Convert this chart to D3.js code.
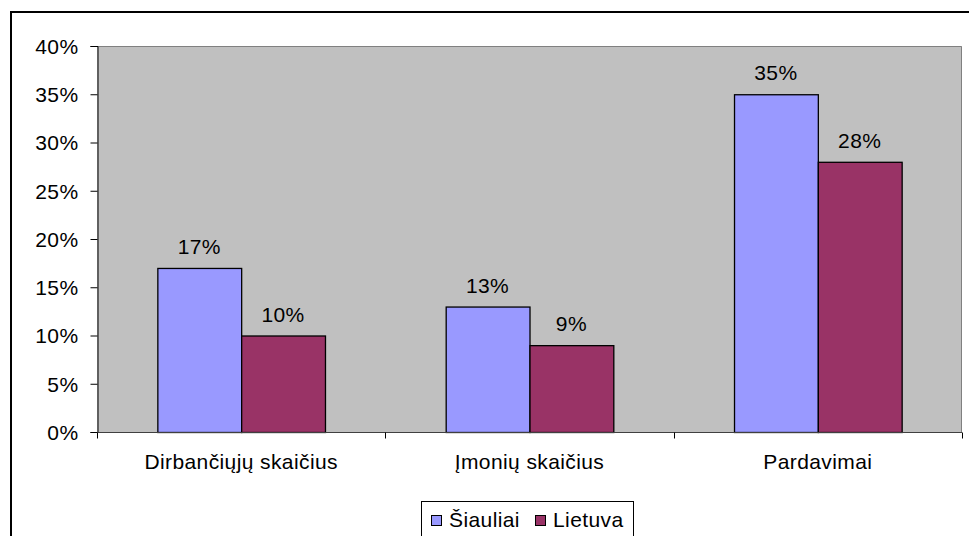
<!DOCTYPE html>
<html>
<head>
<meta charset="utf-8">
<script src="https://cdn.jsdelivr.net/npm/d3@7"></script>
<style>
  html, body { margin: 0; padding: 0; background: #fff; }
  svg { display: block; }
  text { font-family: "Liberation Sans", Arial, sans-serif; fill: #000; }
</style>
</head>
<body>
<svg id="chart" width="969" height="536"></svg>
<script>
const categories = ["Dirbančiųjų skaičius", "Įmonių skaičius", "Pardavimai"];
const seriesNames = ["Šiauliai", "Lietuva"];
const siauliai = [0.17, 0.13, 0.35];
const lietuva = [0.10, 0.09, 0.28];
const yTicks = [0, 0.05, 0.10, 0.15, 0.20, 0.25, 0.30, 0.35, 0.40];
const colors = ["#9999FF", "#993366"];

const seriesValues = [siauliai, lietuva];
const svg = d3.select("#chart");
const fontSize = 21;
const spacing = "0.4px";

// outer chart border
svg.append("rect").attr("x", 11).attr("y", 12).attr("width", 1000).attr("height", 600)
  .attr("fill", "#fff").attr("stroke", "#000").attr("stroke-width", 2);

const plot = { left: 97, top: 46, right: 962, bottom: 432 };

const x0 = d3.scaleBand().domain(categories).range([plot.left, plot.right]).paddingInner(0).paddingOuter(0);
const y = d3.scaleLinear().domain([0, 0.40]).range([plot.bottom, plot.top]);
const x1 = d3.scaleBand().domain(seriesNames).range([0, x0.bandwidth()]).paddingInner(0).paddingOuter(0.72);

// plot background
svg.append("rect").attr("x", plot.left).attr("y", plot.top)
  .attr("width", plot.right - plot.left).attr("height", plot.bottom - plot.top)
  .attr("fill", "#C0C0C0");
// top and right borders gray
svg.append("path").attr("d", `M${plot.left},${plot.top + 0.5}H${plot.right - 0.5}V${plot.bottom}`)
  .attr("fill", "none").attr("stroke", "#808080").attr("stroke-width", 1);

// bars
const groups = svg.append("g").selectAll("g").data(categories).join("g")
  .attr("transform", d => `translate(${x0(d)},0)`);
groups.each(function(cat, ci) {
  const g = d3.select(this);
  seriesNames.forEach((s, si) => {
    const v = seriesValues[si][ci];
    g.append("rect")
      .attr("x", x1(s) + 0.5).attr("y", y(v) + 0.5)
      .attr("width", x1.bandwidth()).attr("height", y(0) - y(v))
      .attr("fill", colors[si]).attr("stroke", "#000").attr("stroke-width", 1.3);
    g.append("text")
      .attr("x", x1(s) + x1.bandwidth() / 2).attr("y", y(v) - 14)
      .attr("text-anchor", "middle").attr("font-size", fontSize).attr("letter-spacing", spacing)
      .text(d3.format(".0%")(v));
  });
});

// y axis
const yAxis = d3.axisLeft(y).tickValues(yTicks).tickFormat(d3.format(".0%")).tickSize(7).tickPadding(12);
const yg = svg.append("g").attr("transform", `translate(${plot.left + 0.5},0)`).call(yAxis);
yg.select(".domain").attr("stroke", "#000");
yg.selectAll(".tick line").attr("stroke", "#000");
yg.selectAll("text").attr("font-size", fontSize).attr("letter-spacing", spacing)
  .attr("font-family", "Liberation Sans, Arial, sans-serif").attr("dy", "0.35em");

// x axis
const xAxis = d3.axisBottom(x0).tickSize(0).tickPadding(0).tickFormat("");
const xg = svg.append("g").attr("transform", `translate(0,${plot.bottom + 0.5})`).call(xAxis);
xg.select(".domain").attr("stroke", "#404040").attr("d", `M${plot.left},0H${plot.right}`);
const boundaries = [plot.left].concat(categories.map(c => x0(c) + x0.bandwidth()));
xg.selectAll(".bnd").data(boundaries).join("line").attr("class", "bnd")
  .attr("x1", d => Math.round(d) + 0.5).attr("x2", d => Math.round(d) + 0.5)
  .attr("y1", 0).attr("y2", 6).attr("stroke", "#000");
svg.append("g").selectAll("text").data(categories).join("text")
  .attr("x", d => x0(d) + x0.bandwidth() / 2).attr("y", 469)
  .attr("text-anchor", "middle").attr("font-size", fontSize).attr("letter-spacing", spacing).text(d => d);

// legend
const lg = svg.append("g");
lg.append("rect").attr("x", 421.5).attr("y", 501.5).attr("width", 212).attr("height", 60)
  .attr("fill", "#fff").attr("stroke", "#000").attr("stroke-width", 1);
const legendX = [431, 535];
seriesNames.forEach((s, i) => {
  lg.append("rect").attr("x", legendX[i] + 0.5).attr("y", 515.5).attr("width", 10).attr("height", 10)
    .attr("fill", colors[i]).attr("stroke", "#000").attr("stroke-width", 1);
  lg.append("text").attr("x", legendX[i] + 18).attr("y", 527).attr("font-size", fontSize).attr("letter-spacing", spacing).text(s);
});
</script>
</body>
</html>
